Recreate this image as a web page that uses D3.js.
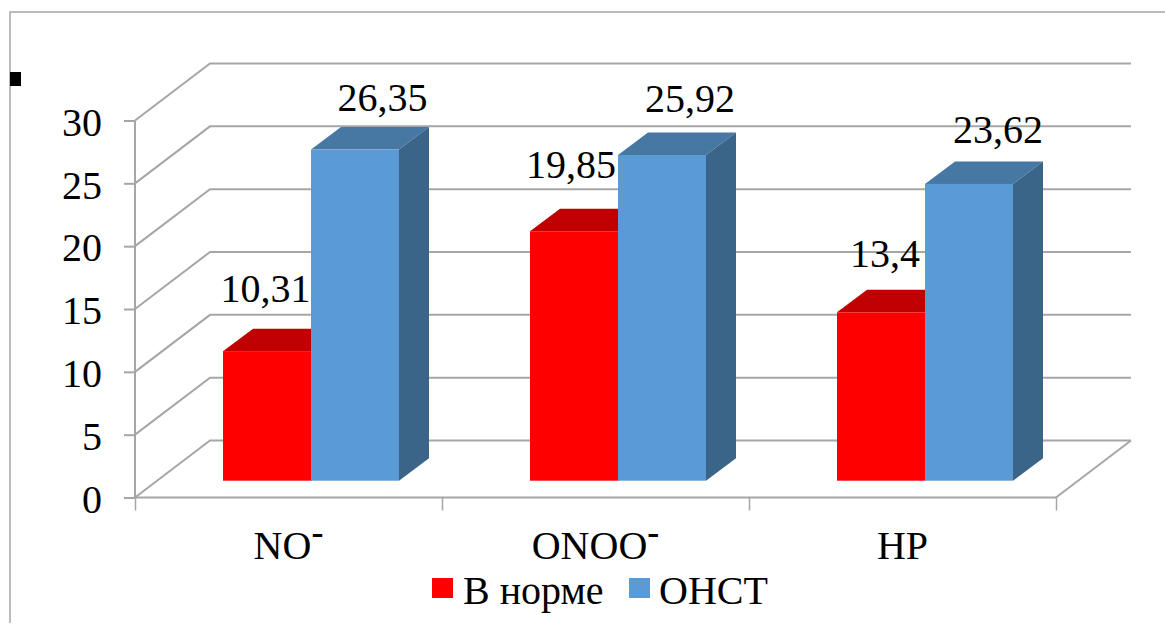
<!DOCTYPE html>
<html>
<head>
<meta charset="utf-8">
<script src="https://cdn.jsdelivr.net/npm/d3@7"></script>
<style>
  html, body { margin: 0; padding: 0; background: #fff; overflow: hidden; }
  text { font-family: "Liberation Serif", serif; fill: #000; }
</style>
</head>
<body>
<svg id="chart" width="1165" height="625"></svg>
<script>
const categories = ["NO", "ONOO", "HP"];
const charges = ["-", "-", ""];
const seriesNames = ["В норме", "ОНСТ"];
const normValues = [10.31, 19.85, 13.4];
const onstValues = [26.35, 25.92, 23.62];
const yTicks = [0, 5, 10, 15, 20, 25, 30];

const width = 1165;
const height = 625;
const gridColor = "#a6a6a6";
const fontSize = 40;

// fake 3d: how far the back wall is shifted from the front plane
const wallDx = 75;
const wallDy = -57;

const colors = [
  { front: "#ff0000", top: "#c00000", side: "#a00000" },
  { front: "#5b9bd5", top: "#4777a3", side: "#3a6488" },
];

const svg = d3.select("#chart");

const y = d3.scaleLinear().domain([0, 30]).range([497.5, 120.5]);
const x0 = d3.scaleBand().domain(categories).range([135, 1056]);
const x1 = d3.scaleBand().domain(seriesNames).range([65.5, 241.5]);

// frame around the chart, only top and left are visible
svg.append("path")
  .attr("d", "M10,623V12H1165")
  .attr("fill", "none")
  .attr("stroke", "#a6a6a6")
  .attr("stroke-width", 1.5);
svg.append("rect")
  .attr("x", 10).attr("y", 72)
  .attr("width", 11).attr("height", 14)
  .attr("fill", "#000");

// walls and floor
const grid = svg.append("g").attr("fill", "none").attr("stroke", gridColor).attr("stroke-width", 2);
grid.selectAll("path")
  .data(yTicks)
  .enter()
  .append("path")
  .attr("d", (d) => {
    const yy = y(d);
    return `M135,${yy}L${135 + wallDx},${yy + wallDy}H${1056 + wallDx}`;
  });
grid.append("path")
  .attr("d", `M${1056 + wallDx},${y(0) + wallDy}L1056,${y(0)}`);

const yAxis = d3.axisLeft(y).tickValues(yTicks).tickSize(11).tickPadding(22);
const yG = svg.append("g").attr("transform", "translate(135,0)").call(yAxis);
yG.selectAll("text")
  .attr("font-size", fontSize)
  .attr("font-family", "Liberation Serif")
  .attr("dy", "0.37em");

// bottom axis has its ticks on the band edges, so it gets its own linear scale
const xEdges = d3.scaleLinear().domain([0, 3]).range(x0.range());
const xAxis = d3.axisBottom(xEdges).ticks(3).tickSize(13).tickFormat("");
const xG = svg.append("g").attr("transform", `translate(0,${y(0)})`).call(xAxis);

[yG, xG].forEach((g) => {
  g.selectAll("path.domain, line").attr("stroke", gridColor).attr("stroke-width", 2);
});
xG.select("path.domain").attr("d", `M135,0H1056`);
yG.select("path.domain").attr("d", `M0,${y(30)}V${y(0)}`);
xG.selectAll("line").attr("stroke-width", 1.5);

// bars stand a bit inside the floor
const floorDx = 22.5;
const floorDy = -16.8;
const barDx = 30;
const barDy = -22.5;

const bars = [];
categories.forEach((c, i) => {
  seriesNames.forEach((s, j) => {
    const v = (j === 0 ? normValues : onstValues)[i];
    bars.push({ c, s, j, v, i });
  });
});

const barG = svg.append("g")
  .selectAll("g")
  .data(bars)
  .enter()
  .append("g");

const left = (d) => x0(d.c) + x1(d.s) + floorDx;
const right = (d) => left(d) + x1.bandwidth();
const top_ = (d) => y(d.v) + floorDy;
const base = () => y(0) + floorDy;

barG.append("path")
  .attr("fill", (d) => colors[d.j].top)
  .attr("d", (d) => `M${left(d)},${top_(d)}l${barDx},${barDy}H${right(d) + barDx}L${right(d)},${top_(d)}Z`);

barG.append("path")
  .attr("fill", (d) => colors[d.j].side)
  .attr("d", (d) => `M${right(d)},${top_(d)}l${barDx},${barDy}V${base() + barDy}L${right(d)},${base()}Z`);

barG.append("rect")
  .attr("x", left)
  .attr("y", top_)
  .attr("width", x1.bandwidth())
  .attr("height", (d) => base() - top_(d))
  .attr("fill", (d) => colors[d.j].front);

// value labels, nudged by hand like in the original
const nudge = [
  [-1.5, -49.3], [27.5, -39],
  [-3, -53], [28, -43],
  [4, -45.6], [29, -41],
];
svg.append("g")
  .selectAll("text")
  .data(bars)
  .enter()
  .append("text")
  .attr("text-anchor", "middle")
  .attr("font-size", fontSize)
  .attr("x", (d, i) => (left(d) + right(d)) / 2 + nudge[i][0])
  .attr("y", (d, i) => top_(d) + nudge[i][1])
  .text((d) => String(d.v).replace(".", ","));

// category labels
const catLabels = svg.append("g")
  .selectAll("text")
  .data(categories)
  .enter()
  .append("text")
  .attr("text-anchor", "middle")
  .attr("font-size", fontSize)
  .attr("x", (d) => x0(d) + x0.bandwidth() / 2)
  .attr("y", 559)
  .text((d) => d);
catLabels.append("tspan")
  .attr("font-size", 36)
  .attr("font-weight", "bold")
  .attr("dy", -15)
  .text((d, i) => charges[i]);

// legend
const legendX = [432, 629];
const legend = svg.append("g")
  .selectAll("g")
  .data(seriesNames)
  .enter()
  .append("g")
  .attr("transform", (d, i) => `translate(${legendX[i]},578)`);
legend.append("rect")
  .attr("width", 21)
  .attr("height", 20)
  .attr("fill", (d, i) => colors[i].front);
legend.append("text")
  .attr("x", (d, i) => (i === 0 ? 31 : 30))
  .attr("y", 26)
  .attr("font-size", fontSize)
  .text((d) => d);
</script>
</body>
</html>
